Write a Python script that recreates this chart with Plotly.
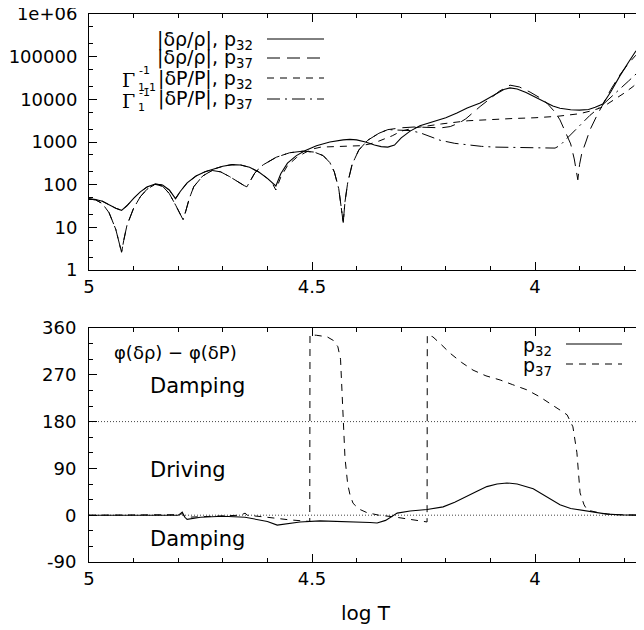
import plotly.graph_objects as go

# ---------------- data: top panel (amplitudes) ----------------
p32_rho_T = [5.000, 4.985, 4.970, 4.955, 4.940, 4.927, 4.915, 4.900, 4.885, 4.870, 4.852, 4.835, 4.820,
             4.806, 4.795, 4.780, 4.760, 4.740, 4.724, 4.700, 4.679, 4.660, 4.640, 4.620, 4.600, 4.590,
             4.581, 4.570, 4.555, 4.535, 4.516, 4.490, 4.460, 4.430, 4.415, 4.400, 4.380, 4.360, 4.345,
             4.330, 4.315, 4.300, 4.280, 4.258, 4.230, 4.200, 4.175, 4.152, 4.123, 4.090, 4.070, 4.056,
             4.040, 4.020, 4.000, 3.980, 3.960, 3.944, 3.920, 3.900, 3.880, 3.865, 3.848, 3.830, 3.810,
             3.790, 3.775, 3.757]
p32_rho = [46, 45, 41, 34, 28, 25, 32, 48, 68, 88, 104, 98, 75,
           47, 70, 110, 160, 200, 225, 270, 295, 290, 255, 200, 140, 115,
           93, 180, 320, 480, 620, 820, 1000, 1120, 1150, 1120, 1000, 850, 780,
           760, 850, 1250, 1800, 2400, 3000, 3700, 4800, 6300, 8200, 13000, 17000, 18500,
           17500, 14500, 11500, 9000, 7000, 6200, 5700, 5600, 5800, 6500, 7800, 15000, 35000,
           75000, 130000, 220000]

p32_P_T = [5.000, 4.985, 4.970, 4.955, 4.940, 4.927, 4.915, 4.900, 4.885, 4.870, 4.852, 4.835, 4.820,
           4.806, 4.795, 4.780, 4.760, 4.740, 4.724, 4.700, 4.679, 4.660, 4.640, 4.620, 4.600, 4.590,
           4.581, 4.570, 4.555, 4.535, 4.516, 4.500, 4.480, 4.450, 4.420, 4.390, 4.370, 4.350, 4.320,
           4.300, 4.270, 4.240, 4.210, 4.150, 4.100, 4.050, 4.000, 3.950, 3.900, 3.870, 3.848, 3.820,
           3.800, 3.780, 3.757]
p32_P = [46, 45, 41, 34, 28, 25, 32, 48, 68, 88, 104, 98, 75,
         47, 70, 110, 160, 200, 225, 270, 295, 290, 255, 200, 140, 112,
         75, 150, 280, 430, 560, 680, 760, 790, 800, 820, 900, 1050, 1400,
         1800, 2150, 2400, 2650, 3150, 3400, 3550, 3700, 4000, 4600, 5500, 6600, 10000,
         14000, 20000, 33000]

p37_common_T = [5.000, 4.985, 4.970, 4.955, 4.940, 4.932, 4.927, 4.922, 4.915, 4.900, 4.885, 4.870, 4.852,
                4.835, 4.820, 4.805, 4.795, 4.789, 4.783, 4.775, 4.765, 4.745, 4.724, 4.705, 4.685, 4.665,
                4.652, 4.646, 4.640, 4.628, 4.610, 4.580, 4.550, 4.520, 4.495, 4.475, 4.460, 4.450, 4.440,
                4.434, 4.430, 4.426, 4.420, 4.410, 4.395, 4.375, 4.350, 4.330]
p37_common = [46, 44, 36, 22, 9, 4.5, 2.6, 5, 11, 28, 52, 78, 102,
              92, 62, 32, 20, 15, 24, 48, 90, 160, 215, 200, 155, 112,
              95, 89, 115, 190, 290, 440, 560, 610, 580, 480, 330, 200, 80,
              30, 13, 40, 110, 300, 650, 1100, 1600, 1950]

p37_rho_T = p37_common_T + [4.300, 4.270, 4.240, 4.210, 4.190, 4.170, 4.155, 4.140, 4.123, 4.100, 4.080,
                            4.056, 4.035, 4.011, 3.990, 3.973, 3.955, 3.944, 3.930, 3.920, 3.912, 3.906,
                            3.904, 3.900, 3.895, 3.886, 3.877, 3.862, 3.848, 3.830, 3.810, 3.790, 3.775, 3.757]
p37_rho = p37_common + [2150, 2250, 2200, 2150, 2300, 2800, 3500, 4800, 6800, 10500, 15500,
                        21500, 19500, 14800, 11000, 8100, 5000, 3300, 1600, 900, 400, 180,
                        130, 300, 550, 1000, 1900, 4000, 7800, 17000, 37000, 70000, 105000, 166000]

p37_P_T = p37_common_T + [4.300, 4.280, 4.258, 4.235, 4.213, 4.180, 4.152, 4.120, 4.090, 4.050, 4.000,
                          3.970, 3.955, 3.944, 3.920, 3.900, 3.877, 3.848, 3.810, 3.790, 3.757]
p37_P = p37_common + [1900, 1850, 1650, 1350, 1100, 930, 850, 790, 760, 740, 720,
                      700, 720, 830, 1500, 2500, 4200, 7500, 17000, 27000, 57000]

# ---------------- data: bottom panel (phase difference, degrees) ----------------
ph32_T = [5.0, 4.85, 4.80, 4.795, 4.791, 4.785, 4.78, 4.75, 4.70, 4.65, 4.62, 4.60, 4.578, 4.55, 4.527,
          4.482, 4.42, 4.37, 4.354, 4.335, 4.309, 4.28, 4.242, 4.206, 4.18, 4.152, 4.13, 4.108, 4.085,
          4.063, 4.04, 4.004, 3.975, 3.944, 3.92, 3.892, 3.86, 3.839, 3.80, 3.758, 3.757]
ph32 = [0, 0, 0, 3, 6, -4, -8, -4, -2, -4, -8, -12, -19, -15, -13,
        -11, -12, -14, -15, -10, 4, 8, 11, 16, 25, 36, 46, 55, 60,
        62, 60, 51, 36, 20, 13, 9, 5, 2, 0.5, 0, -90]

ph37_T = [5.0, 4.85, 4.80, 4.79, 4.785, 4.75, 4.70, 4.66, 4.65, 4.645, 4.60, 4.55, 4.505, 4.5045, 4.49,
          4.466, 4.452, 4.442, 4.436, 4.433, 4.430, 4.426, 4.420, 4.415, 4.408, 4.395, 4.377, 4.35,
          4.318, 4.28, 4.242, 4.2415, 4.229, 4.21, 4.191, 4.165, 4.139, 4.11, 4.078, 4.05, 4.018,
          3.99, 3.96, 3.94, 3.928, 3.915, 3.906, 3.899, 3.89, 3.883, 3.854, 3.82, 3.757]
ph37 = [0, 0, 1, 3, -4, -3, -2, 0, 4, 0, -4, -9, -12, 347, 346,
        343, 336, 324, 300, 250, 183, 110, 60, 40, 23, 12, 5, 0,
        -3, -8, -13, 347, 343, 328, 312, 294, 279, 268, 260, 251, 241,
        228, 212, 200, 193, 170, 120, 43, 20, 10, 4, 1, 0]

phase_guides = [0, 180]

amp_ticks = [1, 10, 100, 1000, 10000, 100000, 1000000]
amp_ticktext = ["1", "10", "100", "1000", "10000", "100000", "1e+06"]
phase_ticks = [-90, 0, 90, 180, 270, 360]
phase_ticktext = ["-90", "0", "90", "180", "270", "360"]
logT_ticks = [5, 4.5, 4]
logT_ticktext = ["5", "4.5", "4"]

# ---------------- figure ----------------
FONT = "DejaVu Sans"
OFF = 8                      # page body margin of the html page
W, H = 644 - OFF, 630 - OFF
L_M, R_M, T_M, B_M = 89 - OFF, 0, 14 - OFF, 68
PH = H - T_M - B_M
PW = W - L_M - R_M


def px(x):
    """page pixel x -> paper fraction"""
    return (x - OFF - L_M) / PW


def py(y):
    """page pixel y -> paper fraction"""
    return (H - B_M - (y - OFF)) / PH


fig = go.Figure()

fig.add_trace(go.Scatter(x=p32_rho_T, y=p32_rho, mode="lines", line=dict(color="black", width=1.1),
                         xaxis="x", yaxis="y", showlegend=False))
fig.add_trace(go.Scatter(x=p37_rho_T, y=p37_rho, mode="lines",
                         line=dict(color="black", width=1, dash="13px,7px"),
                         xaxis="x", yaxis="y", showlegend=False))
fig.add_trace(go.Scatter(x=p32_P_T, y=p32_P, mode="lines",
                         line=dict(color="black", width=1, dash="7px,6px"),
                         xaxis="x", yaxis="y", showlegend=False))
fig.add_trace(go.Scatter(x=p37_P_T, y=p37_P, mode="lines",
                         line=dict(color="black", width=1, dash="13px,5px,2px,5px"),
                         xaxis="x", yaxis="y", showlegend=False))

fig.add_trace(go.Scatter(x=ph32_T, y=ph32, mode="lines", line=dict(color="black", width=1.1),
                         xaxis="x2", yaxis="y2", showlegend=False))
fig.add_trace(go.Scatter(x=ph37_T, y=ph37, mode="lines",
                         line=dict(color="black", width=1, dash="7px,6px"),
                         xaxis="x2", yaxis="y2", showlegend=False))

top_dom = [py(270), 1.0]
bot_dom = [0.0, py(328)]
xr = [5.0, 5.0 - PW / 446.0]

axis_common = dict(showline=True, linecolor="black", linewidth=1, mirror="ticks", ticks="inside",
                   ticklen=8, tickwidth=1, tickcolor="black", showgrid=False, zeroline=False,
                   automargin=False, ticklabeloverflow="allow",
                   tickfont=dict(family=FONT, size=18, color="black"))

minor_log = []
for e in range(6):
    minor_log += [2 * 10 ** e, 5 * 10 ** e]

fig.update_layout(
    width=W, height=H, margin=dict(l=L_M, r=R_M, t=T_M, b=B_M, pad=0, autoexpand=False),
    paper_bgcolor="white", plot_bgcolor="white",
    xaxis=dict(domain=[0, 1], anchor="y", range=xr, tickvals=logT_ticks, ticktext=logT_ticktext,
               minor=dict(dtick=0.1, tick0=5, ticklen=4, ticks="inside", tickcolor="black"),
               **axis_common),
    yaxis=dict(domain=top_dom, anchor="x", type="log", range=[0, 6],
               tickvals=amp_ticks, ticktext=amp_ticktext,
               minor=dict(tickvals=minor_log, ticklen=4, ticks="inside", tickcolor="black"),
               ticklabelstandoff=7, **axis_common),
    xaxis2=dict(domain=[0, 1], anchor="y2", range=xr, tickvals=logT_ticks, ticktext=logT_ticktext,
                minor=dict(dtick=0.1, tick0=5, ticklen=4, ticks="inside", tickcolor="black"),
                **axis_common),
    yaxis2=dict(domain=bot_dom, anchor="x2", range=[-90, 360], tickvals=phase_ticks,
                ticktext=phase_ticktext,
                minor=dict(dtick=30, tick0=0, ticklen=4, ticks="inside", tickcolor="black"),
                ticklabelstandoff=8, **axis_common),
)

for g in phase_guides:
    fig.add_shape(type="line", xref="x2 domain", yref="y2", x0=0, x1=1, y0=g, y1=g,
                  line=dict(color="#444", width=1, dash="1px,2px"), layer="below")

# ---- legend, top panel (gnuplot style: text right, sample on the right) ----
leg_x_text = px(255)
lx0, lx1 = px(267), px(324)
entries = [
    ("|δρ/ρ|, p<sub>32</sub>", 39, "solid"),
    ("|δρ/ρ|, p<sub>37</sub>", 58, "13px,7px"),
    ("|δP/P|, p<sub>32</sub>", 78, "7px,6px"),
    ("|δP/P|, p<sub>37</sub>", 99, "13px,5px,2px,5px"),
]
for txt, yy, dash in entries:
    fig.add_annotation(x=leg_x_text, y=py(yy + 1), xref="paper", yref="paper", text=txt, showarrow=False,
                       xanchor="right", yanchor="middle", font=dict(family=FONT, size=19, color="black"))
    fig.add_shape(type="line", xref="paper", yref="paper", x0=lx0, x1=lx1, y0=py(yy), y1=py(yy),
                  line=dict(color="black", width=1, dash=dash))

# Gamma prefixes with stacked scripts
for yy, sub in [(78, "1-1"), (99, "1")]:
    fig.add_annotation(x=px(137), y=py(yy + 2), xref="paper", yref="paper", text="Γ", showarrow=False,
                       xanchor="right", yanchor="middle",
                       font=dict(family="DejaVu Serif", size=19, color="black"))
    fig.add_annotation(x=px(137), y=py(yy - 7), xref="paper", yref="paper", text="-1", showarrow=False,
                       xanchor="left", yanchor="middle", font=dict(family=FONT, size=11, color="black"))
    fig.add_annotation(x=px(136), y=py(yy + 9), xref="paper", yref="paper", text=sub, showarrow=False,
                       xanchor="left", yanchor="middle", font=dict(family=FONT, size=11, color="black"))

# ---- bottom panel texts ----
fig.add_annotation(x=px(112), y=py(352), xref="paper", yref="paper", text="φ(δρ) − φ(δP)",
                   showarrow=False, xanchor="left", yanchor="middle",
                   font=dict(family=FONT, size=18, color="black"))
for txt, yy in [("Damping", 386), ("Driving", 470), ("Damping", 539)]:
    fig.add_annotation(x=px(148), y=py(yy), xref="paper", yref="paper", text=txt, showarrow=False,
                       xanchor="left", yanchor="middle", font=dict(family=FONT, size=21, color="black"))

for txt, yy, dash in [("p<sub>32</sub>", 344, "solid"), ("p<sub>37</sub>", 364, "7px,6px")]:
    fig.add_annotation(x=px(554), y=py(yy + 2), xref="paper", yref="paper", text=txt, showarrow=False,
                       xanchor="right", yanchor="middle", font=dict(family=FONT, size=19, color="black"))
    fig.add_shape(type="line", xref="paper", yref="paper", x0=px(566), x1=px(622), y0=py(yy), y1=py(yy),
                  line=dict(color="black", width=1, dash=dash))

fig.add_annotation(x=px(366), y=py(613), xref="paper", yref="paper", text="log T", showarrow=False,
                   xanchor="center", yanchor="middle", font=dict(family=FONT, size=20, color="black"))

fig.write_html("out.html")
